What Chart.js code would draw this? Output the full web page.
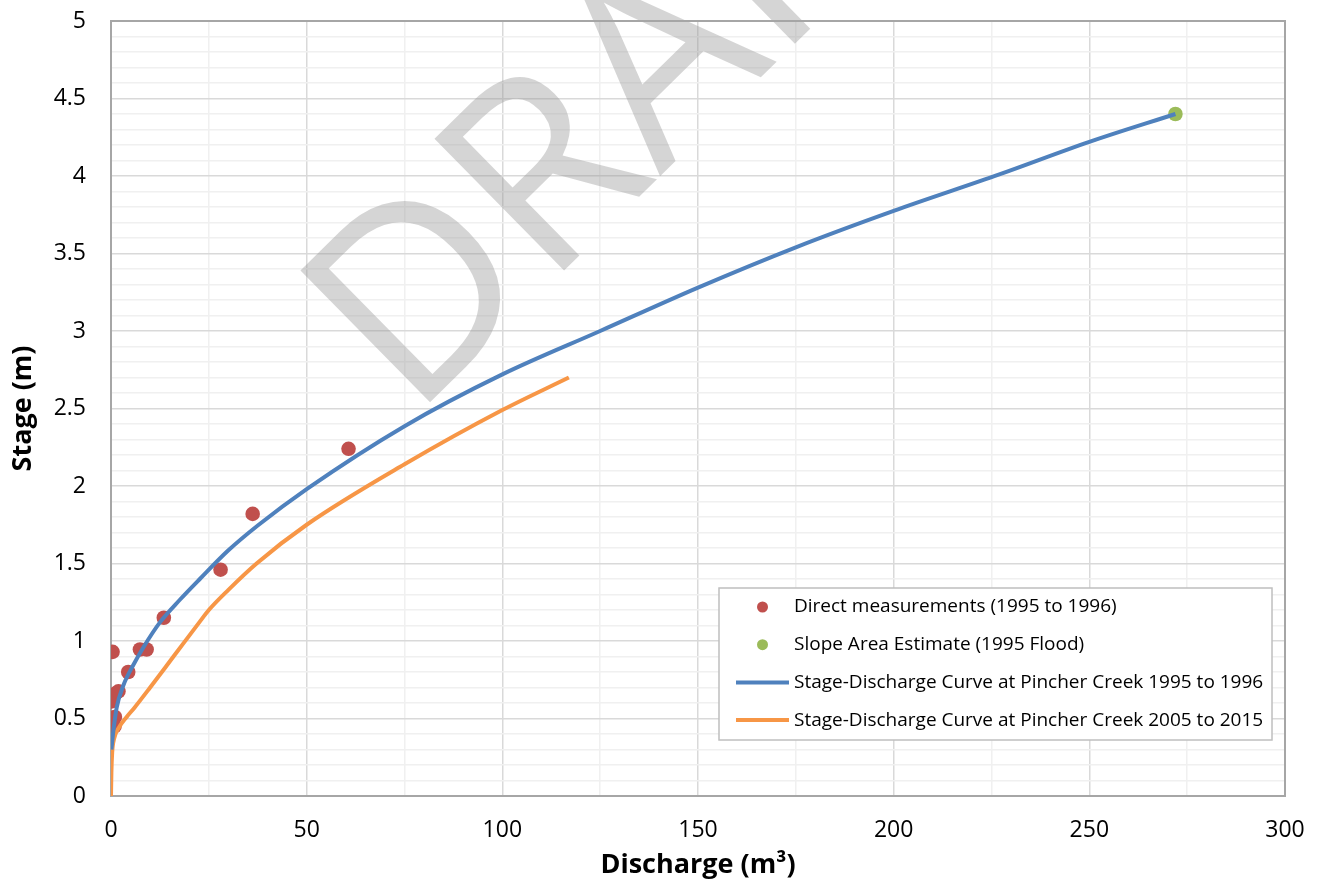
<!DOCTYPE html>
<html>
<head>
<meta charset="utf-8">
<script src="https://cdn.jsdelivr.net/npm/chart.js@4"></script>
<style>
  body { margin: 0; background: #fff; }
  #wrap { width: 1317px; height: 882px; position: relative; }
</style>
</head>
<body>
<div id="wrap"><canvas id="ratingChart"></canvas></div>
<script>
// direct gaugings 1995-96 (discharge, stage)
const measuredQ = [0.4, 0.2, 1.1, 1.9, 4.4, 7.4, 9.1, 13.5, 28.0, 36.2, 60.7, 0.3, 0.6, 1.0, 0.9];
const measuredStage = [0.93, 0.61, 0.66, 0.675, 0.80, 0.945, 0.945, 1.15, 1.46, 1.82, 2.24, 0.47, 0.49, 0.51, 0.45];

// slope area estimate of the 1995 flood
const floodQ = [272];
const floodStage = [4.40];

// rating curve 1995 to 1996
const curve1995Q = [0.1, 0.6, 1.45, 3.1, 5.7, 8.3, 12.5, 17.6, 22.7, 30, 37.5, 50, 75, 100, 125, 150, 175, 200, 227, 250, 272];
const curve1995Stage = [0.30, 0.42, 0.57, 0.71, 0.845, 0.96, 1.12, 1.266, 1.40, 1.585, 1.745, 1.98, 2.386, 2.72, 3.00, 3.28, 3.54, 3.775, 4.01, 4.22, 4.40];

// rating curve 2005 to 2015
const curve2005Q = [0, 0.1, 0.3, 0.8, 2, 4, 6, 10, 14.2, 18.5, 22.7, 25, 30, 37.2, 50, 75, 100, 117];
const curve2005Stage = [0, 0.15, 0.28, 0.37, 0.44, 0.51, 0.57, 0.70, 0.84, 0.985, 1.125, 1.20, 1.33, 1.50, 1.75, 2.14, 2.49, 2.70];

const toPoints = (xs, ys) => xs.map((x, i) => ({ x: x, y: ys[i] }));

const FONT = "'Open Sans', 'Liberation Sans', sans-serif";
const onHalf = v => Math.abs(v * 2 - Math.round(v * 2)) < 1e-6;

// big grey DRAFT stamp behind the series
const watermark = {
    id: 'watermark',
    beforeDatasetsDraw(chart) {
        const ctx = chart.ctx;
        ctx.save();
        ctx.translate(412, 420);
        ctx.rotate(-44.5 * Math.PI / 180);
        ctx.font = "259px " + FONT;
        ctx.fillStyle = "rgba(150,150,150,0.40)";
        ctx.textBaseline = "alphabetic";
        ctx.textAlign = "left";
        ctx.fillText("DRAFT", 0, 0);
        ctx.restore();
    }
};

// frame round the plot area
const frame = {
    id: 'frame',
    beforeDatasetsDraw(chart) {
        const { ctx, chartArea: a } = chart;
        ctx.save();
        ctx.strokeStyle = "#a6a6a6";
        ctx.lineWidth = 2;
        ctx.strokeRect(a.left, a.top, a.right - a.left, a.bottom - a.top);
        ctx.restore();
    }
};

// legend box inside the plot, like the Excel one
const boxLegend = {
    id: 'boxLegend',
    afterDraw(chart) {
        const ctx = chart.ctx;
        const x = 719, y = 588, w = 553, h = 152;
        ctx.save();
        ctx.fillStyle = "#fff";
        ctx.fillRect(x, y, w, h);
        ctx.strokeStyle = "#bfbfbf";
        ctx.lineWidth = 1.5;
        ctx.strokeRect(x, y, w, h);
        ctx.font = "19px " + FONT;
        ctx.textBaseline = "middle";
        chart.data.datasets.forEach((ds, i) => {
            const cy = y + 19 + i * 37.7;
            if (ds.showLine) {
                ctx.strokeStyle = ds.borderColor;
                ctx.lineWidth = 4;
                ctx.beginPath();
                ctx.moveTo(736, cy);
                ctx.lineTo(789, cy);
                ctx.stroke();
            } else {
                ctx.fillStyle = ds.backgroundColor;
                ctx.beginPath();
                ctx.arc(762.5, cy, 5.5, 0, Math.PI * 2);
                ctx.fill();
            }
            ctx.fillStyle = "#000";
            ctx.fillText(ds.label, 794, cy);
        });
        ctx.restore();
    }
};

new Chart(document.getElementById('ratingChart'), {
    type: 'scatter',
    data: {
        datasets: [
            {
                label: "Direct measurements (1995 to 1996)",
                data: toPoints(measuredQ, measuredStage),
                backgroundColor: "#c0504d",
                borderColor: "#c0504d",
                pointRadius: 7.3,
                pointBorderWidth: 0,
                order: 2
            },
            {
                label: "Slope Area Estimate (1995 Flood)",
                data: toPoints(floodQ, floodStage),
                backgroundColor: "#9bbb59",
                borderColor: "#9bbb59",
                pointRadius: 7.3,
                pointBorderWidth: 0,
                order: 3
            },
            {
                label: "Stage-Discharge Curve at Pincher Creek 1995 to 1996",
                data: toPoints(curve1995Q, curve1995Stage),
                showLine: true,
                borderColor: "#4f81bd",
                backgroundColor: "#4f81bd",
                borderWidth: 4,
                pointRadius: 0,
                cubicInterpolationMode: 'monotone',
                order: 0
            },
            {
                label: "Stage-Discharge Curve at Pincher Creek 2005 to 2015",
                data: toPoints(curve2005Q, curve2005Stage),
                showLine: true,
                borderColor: "#f79646",
                backgroundColor: "#f79646",
                borderWidth: 4,
                pointRadius: 0,
                cubicInterpolationMode: 'monotone',
                order: 1
            }
        ]
    },
    options: {
        responsive: true,
        maintainAspectRatio: false,
        animation: false,
        layout: { padding: { left: 0, right: 32, top: 21, bottom: 0 } },
        plugins: { legend: { display: false }, tooltip: { enabled: false } },
        scales: {
            x: {
                type: 'linear',
                min: 0, max: 300,
                afterFit: s => { s.height = 86; s.paddingLeft = 0; s.paddingRight = 0; },
                border: { display: false },
                grid: {
                    drawTicks: false,
                    lineWidth: 1.5,
                    color: c => (c.tick && c.tick.value % 50 === 0) ? "#d9d9d9" : "#f0f0f0"
                },
                ticks: {
                    stepSize: 25,
                    autoSkip: false,
                    maxRotation: 0,
                    padding: 21,
                    color: "#000",
                    font: { family: FONT, size: 23 },
                    callback: v => (v % 50 === 0 ? String(v) : '')
                },
                title: {
                    display: true,
                    text: "Discharge (m³)",
                    color: "#000",
                    padding: { top: 0, bottom: 0 },
                    font: { family: FONT, size: 27, weight: 'bold' }
                }
            },
            y: {
                type: 'linear',
                min: 0, max: 5,
                afterFit: s => { s.width = 111; s.paddingTop = 0; s.paddingBottom = 0; },
                border: { display: false },
                grid: {
                    drawTicks: false,
                    lineWidth: 1.5,
                    color: c => (c.tick && onHalf(c.tick.value)) ? "#d9d9d9" : "#f0f0f0"
                },
                ticks: {
                    stepSize: 0.1,
                    autoSkip: false,
                    padding: 25,
                    color: "#000",
                    font: { family: FONT, size: 23 },
                    callback: v => (onHalf(v) ? String(Math.round(v * 10) / 10) : '')
                },
                title: {
                    display: true,
                    text: "Stage (m)",
                    color: "#000",
                    padding: { top: 7, bottom: 0 },
                    font: { family: FONT, size: 27, weight: 'bold' }
                }
            }
        }
    },
    plugins: [watermark, frame, boxLegend]
});
</script>
</body>
</html>
